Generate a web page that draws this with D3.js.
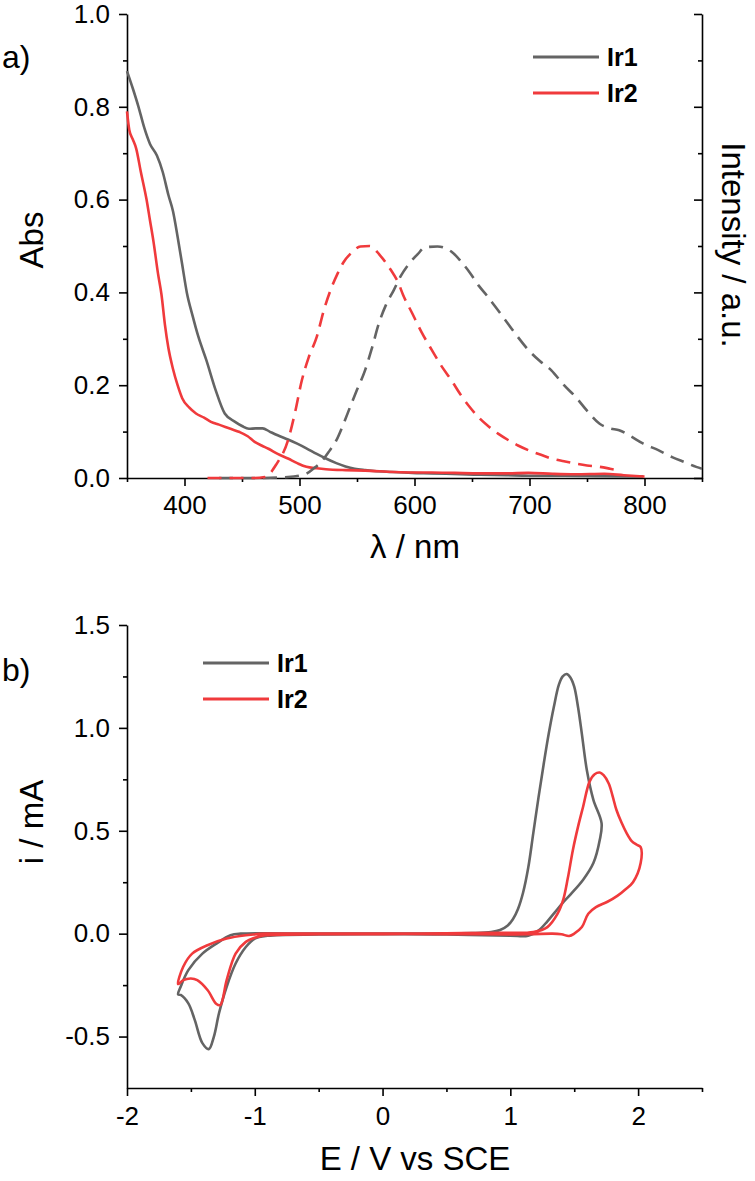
<!DOCTYPE html>
<html>
<head>
<meta charset="utf-8">
<script src="https://cdn.jsdelivr.net/npm/d3@7"></script>
<style>
  body { margin: 0; background: #fff; }
  text { font-family: "Liberation Sans", Arial, sans-serif; }
</style>
</head>
<body>
<div id="chart"></div>
<script>
// ---- data: panel a) absorption (solid) and emission (dashed), wavelength in nm
let absIr1 = [[350,.877],[355,.84],[360,.80],[365,.755],[370,.72],[376,.695],[381,.66],[386,.61],[390,.575],[394,.52],[398,.46],[402,.40],[407,.35],[412,.305],[419,.254],[427,.19],[435,.139],[444,.121],[450,.112],[456,.106],[462,.107],[468,.107],[474,.1],[481,.092],[490,.083],[498,.074],[506,.064],[515,.052],[523,.042],[532,.032],[540,.025],[548,.02],[557,.017],[565,.015],[580,.013],[598,.011],[615,.01],[640,.008],[657,.007],[680,.006],[699,.005],[730,.005],[760,.004],[799,.003]]
let absIr2 = [[350,.79],[352,.75],[355,.73],[358,.71],[362,.66],[367,.60],[370,.555],[373,.51],[377,.44],[380,.395],[383,.33],[386,.28],[390,.235],[394,.2],[398,.172],[404,.152],[410,.139],[417,.13],[423,.121],[430,.115],[440,.106],[448,.099],[455,.09],[461,.078],[467,.07],[473,.063],[481,.052],[490,.042],[498,.032],[506,.024],[515,.021],[523,.019],[540,.017],[557,.016],[582,.013],[600,.012],[615,.012],[635,.011],[657,.01],[680,.01],[699,.011],[720,.009],[740,.008],[765,.009],[782,.006],[800,.003]]
let emIr1 = [[430,0],[460,0],[490,.002],[500,.005],[506,.009],[512,.02],[519,.035],[525,.055],[532,.081],[538,.115],[544,.153],[550,.19],[557,.232],[563,.28],[569,.333],[575,.372],[582,.405],[588,.435],[596,.464],[603,.483],[609,.497],[620,.499],[633,.486],[640,.468],[648,.443],[656,.414],[663,.393],[670,.37],[677,.347],[688,.31],[699,.276],[709,.252],[719,.232],[730,.2],[740,.175],[750,.145],[761,.117],[770,.107],[778,.103],[788,.09],[799,.074],[812,.06],[824,.045],[835,.034],[845,.024],[850,.02]]
let emIr2 = [[420,0],[440,0],[460,0],[470,.002],[480,.03],[490,.081],[496,.14],[502,.21],[508,.26],[515,.304],[521,.36],[527,.405],[533,.44],[538,.464],[545,.485],[553,.499],[561,.5],[570,.48],[579,.45],[586,.42],[590,.395],[598,.355],[606,.315],[615,.276],[623,.243],[632,.211],[640,.18],[648,.153],[656,.13],[665,.11],[673,.095],[682,.081],[690,.07],[699,.06],[710,.05],[719,.042],[730,.036],[740,.031],[750,.027],[761,.024],[770,.02],[780,.015]]

// ---- data: panel b) cyclic voltammograms, E (V vs SCE), i (mA), in scan order
let cvIr1 = [[0,0],[0.4,.001],[0.7,.003],[0.85,.008],[0.92,.018],[0.98,.04],[1.02,.07],[1.06,.12],[1.1,.2],[1.14,.32],[1.18,.49],[1.22,.66],[1.26,.82],[1.3,.97],[1.34,1.1],[1.38,1.21],[1.41,1.25],[1.44,1.262],[1.47,1.245],[1.5,1.2],[1.53,1.1],[1.56,.97],[1.6,.79],[1.65,.65],[1.714,.537],[1.70,.456],[1.65,.343],[1.57,.262],[1.47,.19],[1.41,.15],[1.35,.105],[1.29,.06],[1.22,.015],[1.14,-.01],[1.0,-.01],[0.5,-.004],[0,-.003],[-0.5,-.004],[-0.9,-.01],[-1.0,-.024],[-1.07,-.065],[-1.15,-.145],[-1.22,-.258],[-1.28,-.387],[-1.32,-.5],[-1.36,-.561],[-1.41,-.532],[-1.47,-.419],[-1.52,-.339],[-1.58,-.298],[-1.6,-.295],[-1.58,-.258],[-1.52,-.177],[-1.41,-.097],[-1.3,-.048],[-1.19,-.008],[-1.11,0],[-0.5,0],[0,0]]
let cvIr2 = [[0,0],[0.5,.002],[0.95,.004],[1.18,.008],[1.29,.032],[1.37,.097],[1.414,.165],[1.45,.27],[1.49,.408],[1.53,.52],[1.57,.618],[1.62,.739],[1.66,.775],[1.70,.783],[1.73,.77],[1.77,.73],[1.8,.67],[1.83,.602],[1.87,.54],[1.91,.489],[1.95,.45],[1.99,.432],[2.02,.42],[2.02,.343],[1.96,.25],[1.9,.215],[1.84,.185],[1.76,.155],[1.67,.129],[1.61,.097],[1.56,.032],[1.5,0],[1.46,-.011],[1.4,-.003],[1.33,0],[1.14,-.003],[0.5,-.002],[0,-.002],[-0.5,-.003],[-0.92,-.008],[-1.0,-.02],[-1.07,-.04],[-1.15,-.097],[-1.22,-.226],[-1.27,-.347],[-1.3,-.342],[-1.37,-.274],[-1.45,-.226],[-1.5,-.218],[-1.56,-.226],[-1.6,-.245],[-1.56,-.161],[-1.49,-.097],[-1.37,-.056],[-1.22,-.024],[-1.07,-.008],[-0.92,0],[-0.5,0],[0,0]]

let seriesNames = ["Ir1", "Ir2"]
let seriesColors = ["#646464", "#f03a3c"]

let nmMajor = [400, 500, 600, 700, 800]
let nmMinor = [350, 450, 550, 650, 750, 850]
let absMajor = [0, 0.2, 0.4, 0.6, 0.8, 1.0]
let absMinor = [0.1, 0.3, 0.5, 0.7, 0.9]
let eMajor = [-2, -1, 0, 1, 2]
let eMinor = [-1.5, -0.5, 0.5, 1.5, 2.5]
let iMajor = [-0.5, 0, 0.5, 1.0, 1.5]
let iMinor = [-0.25, 0.25, 0.75, 1.25]

const W = 755, H = 1181

let svg = d3.select("#chart")
    .append("svg")
    .attr("width", W)
    .attr("height", H)

// scales
let xA = d3.scaleLinear().domain([350, 850]).range([127, 702])
let yA = d3.scaleLinear().domain([0, 1.0]).range([478, 14])
let xB = d3.scaleLinear().domain([-2, 2.5]).range([127, 702])
let yB = d3.scaleLinear().domain([-0.75, 1.5]).range([1088, 625])

// plain hyphen for negatives, like the original
let fmt1 = v => d3.format(".1f")(v).replace("−", "-")
let fmt0 = v => d3.format("d")(v).replace("−", "-")

function styleAxis(g) {
    g.selectAll("path, line").attr("stroke", "#000").attr("stroke-width", 1.6)
    g.selectAll("text").attr("font-size", 26).attr("fill", "#000")
        .attr("font-family", "'Liberation Sans', Arial, sans-serif")
}

function drawAxes(x, y, xMaj, xMin, yMaj, yMin, yBot, yFmt, xFmt, xPad, withRight) {
    let gx = svg.append("g").attr("transform", `translate(0,${yBot})`)
        .call(d3.axisBottom(x).tickValues(xMaj).tickSize(8).tickSizeOuter(0).tickPadding(xPad).tickFormat(xFmt))
    styleAxis(gx)
    let gx2 = svg.append("g").attr("transform", `translate(0,${yBot})`)
        .call(d3.axisBottom(x).tickValues(xMin).tickSize(4).tickSizeOuter(0).tickFormat(""))
    styleAxis(gx2)
    gx2.select("path").remove()

    let gy = svg.append("g").attr("transform", `translate(${x.range()[0]},0)`)
        .call(d3.axisLeft(y).tickValues(yMaj).tickSize(8).tickSizeOuter(0).tickPadding(9).tickFormat(yFmt))
    styleAxis(gy)
    let gy2 = svg.append("g").attr("transform", `translate(${x.range()[0]},0)`)
        .call(d3.axisLeft(y).tickValues(yMin).tickSize(4).tickSizeOuter(0).tickFormat(""))
    styleAxis(gy2)
    gy2.select("path").remove()

    if (withRight) {
        // right axis: same ticks, pointing inward, no labels
        let gr = svg.append("g").attr("transform", `translate(${x.range()[1]},0)`)
            .call(d3.axisLeft(y).tickValues(yMaj).tickSize(8).tickSizeOuter(0).tickFormat(""))
        styleAxis(gr)
        let gr2 = svg.append("g").attr("transform", `translate(${x.range()[1]},0)`)
            .call(d3.axisLeft(y).tickValues(yMin).tickSize(4).tickSizeOuter(0).tickFormat(""))
        styleAxis(gr2)
        gr2.select("path").remove()
    }
}

drawAxes(xA, yA, nmMajor, nmMinor, absMajor, absMinor, 478, fmt1, fmt0, 10, true)
drawAxes(xB, yB, eMajor, eMinor, iMajor, iMinor, 1088, fmt1, fmt0, 11, false)

// curves
let lineA = d3.line().x(d => xA(d[0])).y(d => yA(d[1])).curve(d3.curveMonotoneX)
let lineB = d3.line().x(d => xB(d[0])).y(d => yB(d[1])).curve(d3.curveCatmullRom.alpha(0.5))

let panelA = [
    { data: absIr1, color: seriesColors[0], dash: null },
    { data: absIr2, color: seriesColors[1], dash: null },
    { data: emIr1, color: seriesColors[0], dash: "14,8" },
    { data: emIr2, color: seriesColors[1], dash: "14,8" }
]
panelA.forEach(s => {
    svg.append("path")
        .attr("d", lineA(s.data))
        .attr("fill", "none")
        .attr("stroke", s.color)
        .attr("stroke-width", 2.6)
        .attr("stroke-dasharray", s.dash)
})

;[cvIr1, cvIr2].forEach((d, i) => {
    svg.append("path")
        .attr("d", lineB(d))
        .attr("fill", "none")
        .attr("stroke", seriesColors[i])
        .attr("stroke-width", 2.6)
        .attr("stroke-linejoin", "round")
})

// legends
function legend(x0, y0) {
    seriesNames.forEach((name, i) => {
        let yy = y0 + i * 36
        svg.append("line")
            .attr("x1", x0).attr("x2", x0 + 66)
            .attr("y1", yy).attr("y2", yy)
            .attr("stroke", seriesColors[i]).attr("stroke-width", 3)
        svg.append("text")
            .attr("x", x0 + 74).attr("y", yy)
            .attr("dy", "0.36em")
            .attr("font-size", 25).attr("font-weight", "bold")
            .text(name)
    })
}
legend(533, 57)
legend(203, 663)

// axis titles
function label(txt, x, y, rot, size) {
    svg.append("text")
        .attr("transform", `translate(${x},${y}) rotate(${rot})`)
        .attr("text-anchor", "middle")
        .attr("font-size", size)
        .text(txt)
}
label("Abs", 43, 240, -90, 33)
label("Intensity / a.u.", 722, 245, 90, 33)
label("λ / nm", 415, 558, 0, 33)
label("i / mA", 43, 822, -90, 33)
label("E / V vs SCE", 415, 1170, 0, 33)

svg.append("text").attr("x", 2).attr("y", 68).attr("font-size", 32).text("a)")
svg.append("text").attr("x", 2).attr("y", 681).attr("font-size", 32).text("b)")
</script>
</body>
</html>
